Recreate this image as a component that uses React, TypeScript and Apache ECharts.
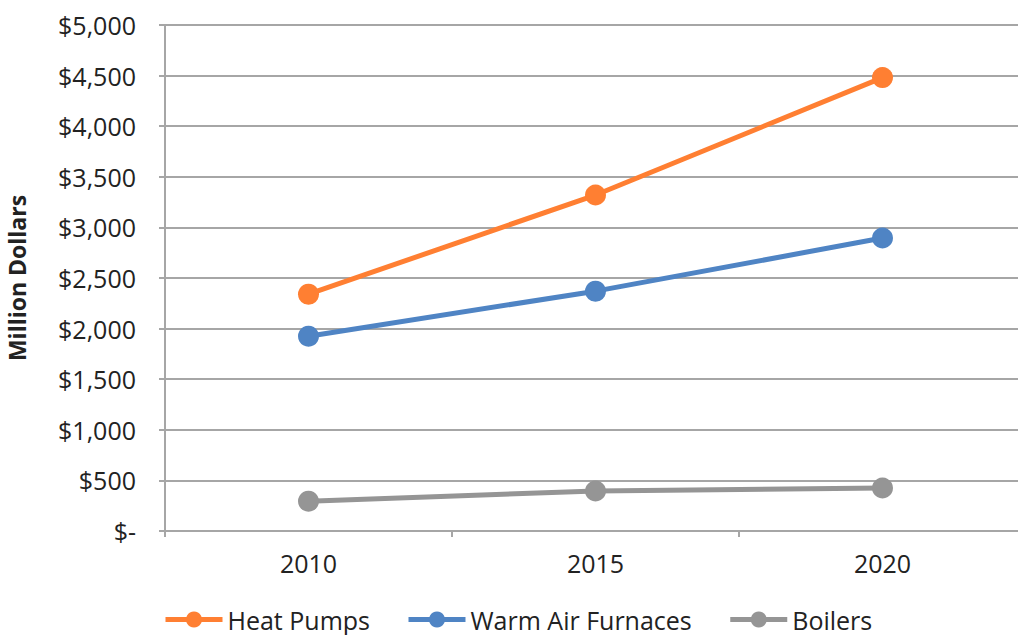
import React, { useEffect, useRef } from "react";
import * as echarts from "echarts";

const years = ["2010", "2015", "2020"];
const heatPumps = [2340, 3320, 4480];
const warmAirFurnaces = [1925, 2370, 2895];
const boilers = [295, 395, 425];
const seriesNames = ["Heat Pumps", "Warm Air Furnaces", "Boilers"];
const colors = ["#FF7F32", "#4F84C4", "#959595"];

export default function App() {
  const ref = useRef<HTMLDivElement>(null);
  useEffect(() => {
    if (!ref.current) return;
    const chart = echarts.init(ref.current, undefined, { renderer: "svg" });
    const font = "'Open Sans', Lato, sans-serif";
    const mk = (name: string, data: number[], color: string) => ({
      name,
      type: "line",
      data,
      symbol: "circle",
      symbolSize: 21,
      lineStyle: { width: 5, color },
      itemStyle: { color },
      emphasis: { disabled: true },
    });
    chart.setOption({
      animation: false,
      textStyle: { fontFamily: font },
      grid: {
        left: 165,
        top: 25,
        bottom: 104,
        right: -8,
        containLabel: false,
        outerBoundsMode: "none",
      },
      legend: {
        top: 607,
        left: 163,
        padding: 0,
        itemWidth: 57,
        itemHeight: 20,
        itemGap: 36,
        lineStyle: { width: 5 },
        textStyle: { fontSize: 25, color: "#222", fontFamily: font },
        data: seriesNames,
      },
      xAxis: {
        type: "category",
        data: years,
        boundaryGap: true,
        axisLine: { lineStyle: { color: "#A6A6A6", width: 2 } },
        axisTick: { show: true, length: 6, lineStyle: { color: "#A6A6A6", width: 2 } },
        axisLabel: { fontSize: 25, color: "#222", margin: 19, fontFamily: font },
      },
      yAxis: {
        type: "value",
        min: 0,
        max: 5000,
        interval: 500,
        name: "Million Dollars",
        nameLocation: "middle",
        nameGap: 137,
        nameTextStyle: { fontSize: 23, fontWeight: "bold", color: "#222", fontFamily: font },
        axisLine: { show: true, lineStyle: { color: "#A6A6A6", width: 2 } },
        axisTick: { show: true, length: 6, lineStyle: { color: "#A6A6A6", width: 2 } },
        splitLine: { lineStyle: { color: "#A6A6A6", width: 2 } },
        axisLabel: {
          fontSize: 25,
          color: "#222",
          margin: 29,
          fontFamily: font,
          formatter: (v: number) => (v === 0 ? "$-" : "$" + v.toLocaleString("en-US")),
        },
      },
      series: [
        mk(seriesNames[0], heatPumps, colors[0]),
        mk(seriesNames[1], warmAirFurnaces, colors[1]),
        mk(seriesNames[2], boilers, colors[2]),
      ],
    });
    return () => chart.dispose();
  }, []);
  return (
    <div
      ref={ref}
      style={{ position: "fixed", left: 0, top: 0, width: 1018, height: 635, background: "#fff" }}
    />
  );
}
